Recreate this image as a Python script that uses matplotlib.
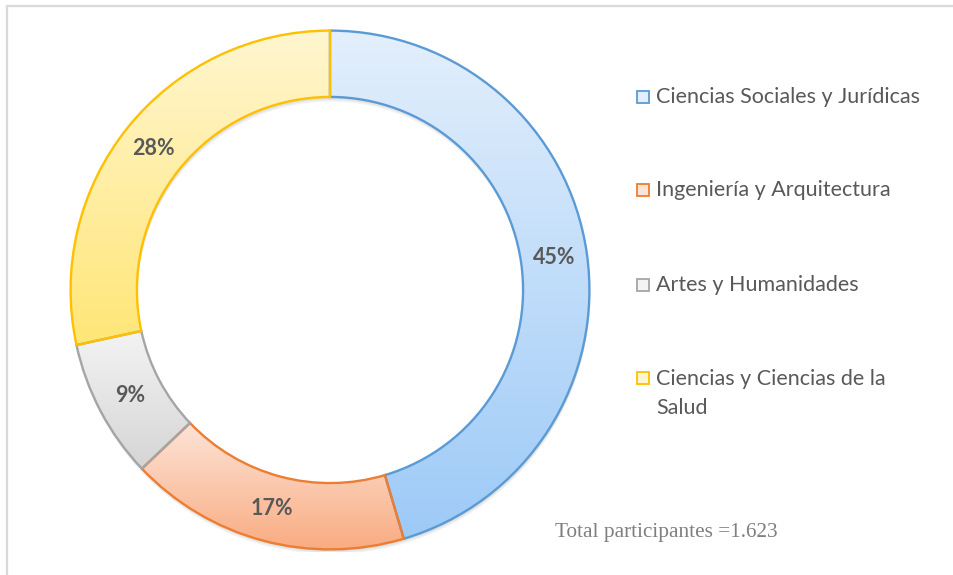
import numpy as np
import matplotlib
matplotlib.use("Agg")
import matplotlib.pyplot as plt
from matplotlib.colors import LinearSegmentedColormap
from matplotlib.patches import Rectangle, Wedge

# data
categories = [
    "Ciencias Sociales y Jurídicas",
    "Ingeniería y Arquitectura",
    "Artes y Humanidades",
    "Ciencias y Ciencias de la\nSalud",
]
participants = [737, 284, 141, 461]
total_text = "Total participantes =1.623"

# styling
edge_colors = ["#5B9BD5", "#ED7D31", "#A5A5A5", "#FFC000"]
grad_top = ["#E3EFFC", "#FDE4D8", "#F3F3F3", "#FFF6D0"]
grad_bottom = ["#9DCAF7", "#F9AC82", "#D5D5D5", "#FFE677"]
label_color = "#595959"

W, H = 954, 575
fig = plt.figure(figsize=(W / 100, H / 100), dpi=100)
fig.patch.set_facecolor("white")

# outer frame (only top/left visible in the crop)
fig.patches.append(Rectangle((7 / W, -0.1), 1.2, 1 - 6 / H + 0.1,
                             transform=fig.transFigure, fill=False,
                             edgecolor="#D9D9D9", linewidth=1.6))

cx, cy, R = 330, 290, 262
ax = fig.add_axes([(cx - R) / W, (H - cy - R) / H, 2 * R / W, 2 * R / H])
ax.set_axis_off()

ring = 67 / 262

# soft drop shadow
for k, a in enumerate([0.05, 0.05, 0.05]):
    off = 0.006 * (k + 1)
    ax.add_patch(Wedge((0.003, -off), 1.0, 0, 360, width=ring,
                       facecolor="black", alpha=a, edgecolor="none", zorder=0))

wedges, _ = ax.pie(participants, startangle=90, counterclock=False, radius=1.0,
                   wedgeprops=dict(width=ring, linewidth=1.7))

for i, w in enumerate(wedges):
    w.set_edgecolor(edge_colors[i])
    w.set_facecolor("none")
    w.set_zorder(3)
    x0, y0, x1, y1 = w.get_path().get_extents().extents
    cmap = LinearSegmentedColormap.from_list(f"g{i}", [grad_top[i], grad_bottom[i]])
    grad = np.linspace(0, 1, 256).reshape(-1, 1)
    im = ax.imshow(grad, cmap=cmap, extent=[x0, x1, y0, y1], origin="upper",
                   aspect="auto", zorder=2, interpolation="bicubic")
    im.set_clip_path(w)

# percentage labels
total = sum(participants)
mid_r = 1 - ring / 2
start = 90.0
for i, v in enumerate(participants):
    ang = start - 360 * v / total / 2
    start -= 360 * v / total
    t = np.deg2rad(ang)
    ax.text(mid_r * np.cos(t), mid_r * np.sin(t), f"{round(100 * v / total)}%",
            ha="center", va="center", fontsize=15.5, fontweight="bold",
            color=label_color, family="Lato", zorder=5)

ax.set_xlim(-1.01, 1.01)
ax.set_ylim(-1.01, 1.01)
ax.set_aspect("equal")

# legend drawn by hand
legend_y = [97, 190, 285, 378]
for i, name in enumerate(categories):
    y = legend_y[i]
    fig.patches.append(Rectangle((637 / W, 1 - (y + 6) / H), 12 / W, 12 / H,
                                 transform=fig.transFigure,
                                 facecolor=grad_top[i], edgecolor=edge_colors[i],
                                 linewidth=1.3))
    multi = "\n" in name
    fig.text(656 / W, 1 - (y - 9 if multi else y) / H, name, ha="left",
             va="top" if multi else "center",
             fontsize=15.5, color=label_color, family="Lato", linespacing=1.57)

fig.text(555 / W, 1 - 532 / H, total_text, ha="left", va="center",
         fontsize=15.3, color="#7F7F7F", family="Liberation Serif")

fig.savefig("out.png", dpi=100)
plt.close(fig)
